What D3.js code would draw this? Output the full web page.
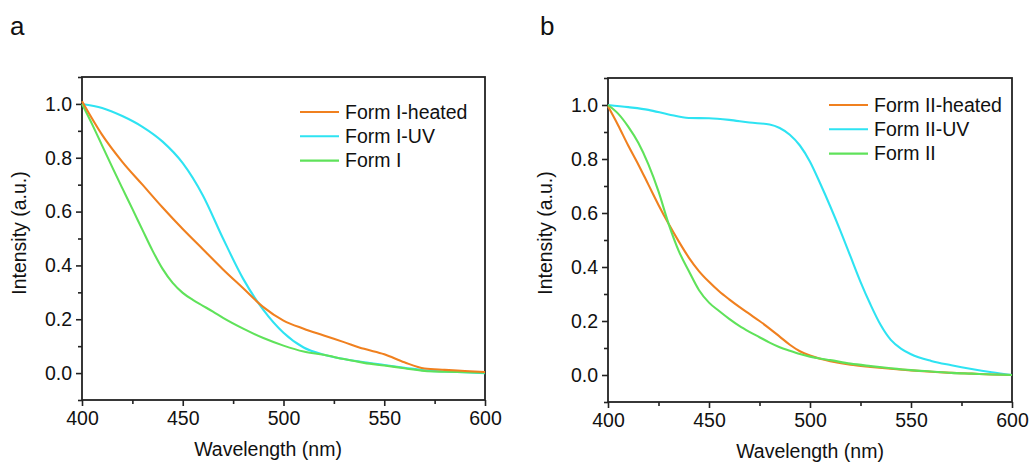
<!DOCTYPE html>
<html>
<head>
<meta charset="utf-8">
<script src="https://cdn.jsdelivr.net/npm/d3@7"></script>
<style>
  body { margin: 0; background: #fff; }
  text { font-family: "Liberation Sans", Arial, sans-serif; fill: #111; }
</style>
</head>
<body>
<div id="chart"></div>
<script>
// panel a
const wlA = [400, 410, 420, 430, 440, 450, 460, 470, 480, 490, 500, 510, 520, 530, 540, 550, 560, 570, 580, 590, 600];
const heatedA = [1.01, 0.885, 0.785, 0.70, 0.615, 0.535, 0.46, 0.385, 0.315, 0.245, 0.195, 0.165, 0.14, 0.115, 0.09, 0.07, 0.04, 0.017, 0.012, 0.008, 0.004];
const uvA = [1.0, 0.985, 0.955, 0.915, 0.86, 0.78, 0.66, 0.5, 0.35, 0.235, 0.15, 0.095, 0.068, 0.052, 0.04, 0.03, 0.02, 0.01, 0.006, 0.003, 0.0];
const wlFormA = [400, 405, 410, 415, 420, 425, 430, 435, 440, 445, 450, 455, 460, 465, 470, 480, 490, 500, 510, 520, 530, 540, 550, 560, 570, 580, 590, 600];
const formA = [1.0, 0.925, 0.845, 0.765, 0.687, 0.61, 0.532, 0.455, 0.387, 0.335, 0.298, 0.272, 0.25, 0.228, 0.205, 0.165, 0.13, 0.102, 0.08, 0.068, 0.052, 0.038, 0.028, 0.018, 0.008, 0.005, 0.003, 0.001];

// panel b
const wlUvB = [400, 410, 420, 430, 440, 450, 460, 470, 480, 485, 490, 495, 500, 505, 510, 515, 520, 525, 530, 535, 540, 545, 550, 560, 570, 580, 590, 600];
const uvB = [1.0, 0.992, 0.982, 0.965, 0.952, 0.951, 0.945, 0.935, 0.928, 0.915, 0.89, 0.85, 0.79, 0.71, 0.625, 0.535, 0.44, 0.345, 0.26, 0.185, 0.13, 0.098, 0.077, 0.052, 0.036, 0.022, 0.01, 0.0];
const wlB = [400, 405, 410, 415, 420, 425, 430, 435, 440, 445, 450, 455, 460, 465, 470, 475, 480, 485, 490, 495, 500, 505, 510, 520, 530, 540, 550, 560, 570, 580, 590, 600];
const heatedB = [0.995, 0.925, 0.85, 0.78, 0.705, 0.63, 0.56, 0.495, 0.435, 0.385, 0.345, 0.31, 0.28, 0.252, 0.226, 0.2, 0.172, 0.142, 0.112, 0.088, 0.072, 0.06, 0.051, 0.038, 0.03, 0.023, 0.017, 0.012, 0.008, 0.005, 0.002, 0.0];
const formB = [1.0, 0.968, 0.92, 0.86, 0.78, 0.68, 0.56, 0.46, 0.385, 0.315, 0.268, 0.237, 0.208, 0.182, 0.16, 0.14, 0.12, 0.103, 0.09, 0.078, 0.068, 0.061, 0.055, 0.042, 0.033, 0.025, 0.018, 0.013, 0.008, 0.005, 0.002, 0.0];

const xTicks = [400, 450, 500, 550, 600];
const xMinor = [425, 475, 525, 575];
const yTicks = [0, 0.2, 0.4, 0.6, 0.8, 1.0];
const yMinor = [-0.1, 0.1, 0.3, 0.5, 0.7, 0.9, 1.1];

const colors = { heated: '#f0801f', uv: '#2ee3f2', form: '#5fe25a' };

const svg = d3.select('#chart')
  .append('svg')
  .attr('width', 1030)
  .attr('height', 466);

function panel(opt) {
  let x = d3.scaleLinear().domain([400, 600]).range([opt.left, opt.right]);
  let y = d3.scaleLinear().domain([-0.1, 1.1]).range([opt.bottom, opt.top]);
  let g = svg.append('g');

  // minor ticks first, then major axis on top
  g.append('g')
    .attr('transform', 'translate(0,' + opt.bottom + ')')
    .call(d3.axisBottom(x).tickValues(xMinor).tickSize(4).tickFormat(''))
    .call(a => a.select('.domain').remove());
  g.append('g')
    .attr('transform', 'translate(' + opt.left + ',0)')
    .call(d3.axisLeft(y).tickValues(yMinor).tickSize(4).tickFormat(''))
    .call(a => a.select('.domain').remove());

  g.append('g')
    .attr('transform', 'translate(0,' + opt.bottom + ')')
    .call(d3.axisBottom(x).tickValues(xTicks).tickSize(6).tickSizeOuter(0).tickPadding(5));
  g.append('g')
    .attr('transform', 'translate(' + opt.left + ',0)')
    .call(d3.axisLeft(y).tickValues(yTicks).tickFormat(d3.format('.1f')).tickSize(6).tickSizeOuter(0).tickPadding(4));

  g.selectAll('.tick line').attr('stroke', '#222').attr('stroke-width', 1.6);
  g.selectAll('.tick text').style('font-size', '19.5px').attr('fill', '#111');
  g.selectAll('.domain').remove();

  // frame
  g.append('rect')
    .attr('x', opt.left)
    .attr('y', opt.top)
    .attr('width', opt.right - opt.left)
    .attr('height', opt.bottom - opt.top)
    .attr('fill', 'none')
    .attr('stroke', '#222')
    .attr('stroke-width', 1.8);

  let line = d3.line()
    .x(d => x(d[0]))
    .y(d => y(d[1]))
    .curve(d3.curveMonotoneX);

  opt.series.forEach(s => {
    g.append('path')
      .datum(d3.zip(s.x, s.y))
      .attr('d', line)
      .attr('fill', 'none')
      .attr('stroke', s.color)
      .attr('stroke-width', 2.1);
  });

  // legend
  opt.series.slice().sort((a, b) => a.order - b.order).forEach((s, i) => {
    let ly = opt.legendY + i * 24.3;
    g.append('line')
      .attr('x1', opt.legendX)
      .attr('x2', opt.legendX + 39)
      .attr('y1', ly)
      .attr('y2', ly)
      .attr('stroke', s.color)
      .attr('stroke-width', 2.1);
    g.append('text')
      .attr('x', opt.legendX + 45)
      .attr('y', ly)
      .attr('dy', '0.35em')
      .style('font-size', '19.5px')
      .text(s.name);
  });

  g.append('text')
    .attr('x', opt.xTitleX)
    .attr('y', opt.bottom + 56)
    .style('text-anchor', 'middle')
    .style('font-size', '19.5px')
    .text('Wavelength (nm)');

  g.append('text')
    .attr('transform', 'translate(' + (opt.yTitleX) + ',233) rotate(-90)')
    .style('text-anchor', 'middle')
    .style('font-size', '19.5px')
    .text('Intensity (a.u.)');

  g.append('text')
    .attr('x', opt.letterX)
    .attr('y', 35)
    .style('font-size', '26px')
    .text(opt.letter);
}

panel({
  left: 82, right: 485, top: 77, bottom: 400,
  legendX: 300, legendY: 112, xTitleX: 268, yTitleX: 26, letterX: 10, letter: 'a',
  series: [
    { name: 'Form I-UV', x: wlA, y: uvA, color: colors.uv, order: 1 },
    { name: 'Form I', x: wlFormA, y: formA, color: colors.form, order: 2 },
    { name: 'Form I-heated', x: wlA, y: heatedA, color: colors.heated, order: 0 }
  ]
});

panel({
  left: 608, right: 1012, top: 78, bottom: 402,
  legendX: 829, legendY: 105, xTitleX: 810, yTitleX: 552, letterX: 540, letter: 'b',
  series: [
    { name: 'Form II-UV', x: wlUvB, y: uvB, color: colors.uv, order: 1 },
    { name: 'Form II-heated', x: wlB, y: heatedB, color: colors.heated, order: 0 },
    { name: 'Form II', x: wlB, y: formB, color: colors.form, order: 2 }
  ]
});
</script>
</body>
</html>
